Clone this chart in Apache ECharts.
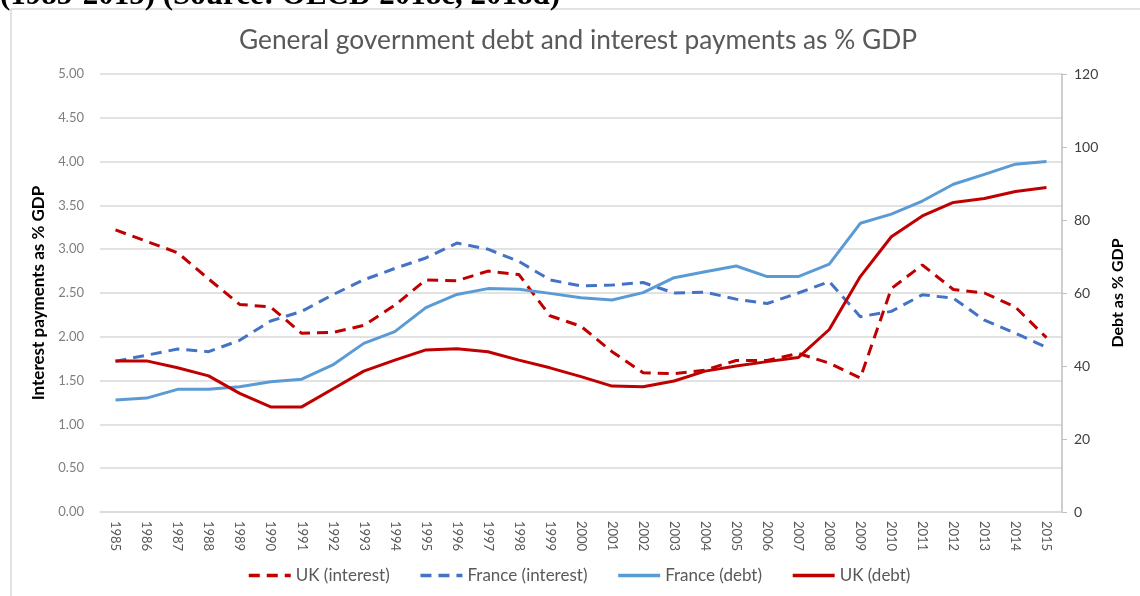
<!DOCTYPE html>
<html>
<head>
<meta charset="utf-8">
<title>General government debt and interest payments</title>
<script src="https://cdn.jsdelivr.net/npm/echarts@6/dist/echarts.min.js"></script>
<style>
    html, body {
        margin: 0;
        padding: 0;
        background: #fff;
    }
    #chart {
        width: 1140px;
        height: 596px;
    }
</style>
</head>
<body>
<div id="chart"></div>
<script>
const years = [
    "1985", "1986", "1987", "1988", "1989", "1990", "1991", "1992", "1993", "1994",
    "1995", "1996", "1997", "1998", "1999", "2000", "2001", "2002", "2003", "2004",
    "2005", "2006", "2007", "2008", "2009", "2010", "2011", "2012", "2013", "2014", "2015"
];
// interest payments, % GDP (left axis)
const ukInterest = [
    3.22, 3.09, 2.96, 2.66, 2.37, 2.34, 2.04, 2.05, 2.13, 2.36,
    2.65, 2.64, 2.75, 2.71, 2.24, 2.12, 1.83, 1.59, 1.58, 1.62,
    1.73, 1.73, 1.81, 1.70, 1.53, 2.55, 2.82, 2.54, 2.50, 2.34, 1.99
];
const franceInterest = [
    1.72, 1.79, 1.86, 1.83, 1.96, 2.18, 2.29, 2.48, 2.65, 2.78,
    2.90, 3.07, 3.00, 2.86, 2.65, 2.58, 2.59, 2.62, 2.50, 2.51,
    2.43, 2.38, 2.50, 2.63, 2.23, 2.29, 2.48, 2.44, 2.19, 2.04, 1.88
];
// debt, % GDP (right axis)
const franceDebt = [
    30.7, 31.2, 33.6, 33.6, 34.3, 35.7, 36.4, 40.3, 46.2, 49.4,
    56.0, 59.6, 61.2, 61.0, 59.9, 58.7, 58.1, 60.1, 64.2, 65.8,
    67.4, 64.5, 64.5, 67.9, 79.1, 81.6, 85.2, 89.8, 92.5, 95.3, 96.0
];
const ukDebt = [
    41.4, 41.4, 39.5, 37.3, 32.5, 28.8, 28.8, 33.7, 38.6, 41.6,
    44.4, 44.7, 43.9, 41.6, 39.5, 37.1, 34.5, 34.3, 35.9, 38.6,
    40.0, 41.2, 42.3, 50.0, 64.5, 75.4, 81.1, 84.8, 85.9, 87.8, 88.9
];

const red = "#c00000";
const blueLight = "#5b9bd5";
const blueDark = "#4472c4";
const font = "Lato, 'Open Sans', sans-serif";

const makeLine = (name, data, color, dashed, axis) => {
    return {
        name: name,
        type: "line",
        yAxisIndex: axis,
        data: data,
        symbol: "none",
        color: color,
        lineStyle: {
            color: color,
            width: 3,
            type: dashed ? [11, 7] : "solid",
        },
        emphasis: { disabled: true },
    };
};

const graph = echarts.init(document.getElementById("chart"));
const option = {
    animation: false,
    backgroundColor: "#fff",
    textStyle: { fontFamily: font },
    graphic: [
        {
            type: "rect",
            shape: { x: 11, y: 9, width: 1300, height: 800 },
            style: { fill: "none", stroke: "#d9d9d9", lineWidth: 1.5 },
            silent: true,
        },
        {
            type: "text",
            x: 0,
            y: 11,
            style: {
                text: "(1985-2015) (Source: OECD 2018c, 2018d)",
                font: "bold 31px 'Liberation Serif', serif",
                fill: "#000",
                verticalAlign: "bottom",
            },
            silent: true,
        },
    ],
    title: {
        text: "General government debt and interest payments as % GDP",
        left: 234,
        top: 23,
        textStyle: {
            fontFamily: font,
            fontWeight: "normal",
            fontSize: 26.3,
            color: "#595959",
        },
    },
    grid: {
        left: 100,
        right: 78,
        top: 74,
        bottom: 84,
    },
    legend: {
        bottom: 7,
        left: 242,
        itemWidth: 42,
        itemHeight: 14,
        itemGap: 29,
        itemStyle: { opacity: 0 },
        lineStyle: { width: 3.5 },
        textStyle: {
            fontFamily: font,
            fontSize: 17,
            color: "#595959",
        },
        data: ["UK (interest)", "France (interest)", "France (debt)", "UK (debt)"],
    },
    xAxis: {
        type: "category",
        data: years,
        boundaryGap: true,
        axisLine: { show: true, lineStyle: { color: "#d9d9d9", width: 1.5 } },
        axisTick: { show: false },
        axisLabel: {
            interval: 0,
            rotate: -90,
            margin: 9,
            fontSize: 13,
            color: "#595959",
        },
    },
    yAxis: [
        {
            type: "value",
            min: 0,
            max: 5,
            interval: 0.5,
            name: "Interest payments as % GDP",
            nameLocation: "middle",
            nameRotate: 90,
            nameGap: 52,
            nameTextStyle: {
                fontFamily: font,
                fontSize: 17,
                fontWeight: "bold",
                color: "#000",
            },
            axisLine: { show: false },
            axisTick: { show: false },
            axisLabel: {
                margin: 16,
                fontSize: 13,
                color: "#7f7f7f",
                formatter: v => v.toFixed(2),
            },
            splitLine: { lineStyle: { color: "#d9d9d9", width: 1.5 } },
        },
        {
            type: "value",
            min: 0,
            max: 120,
            interval: 20,
            position: "right",
            name: "Debt as % GDP",
            nameLocation: "middle",
            nameRotate: 90,
            nameGap: 48,
            nameTextStyle: {
                fontFamily: font,
                fontSize: 16,
                fontWeight: "bold",
                color: "#000",
            },
            axisLine: { show: true, lineStyle: { color: "#bfbfbf", width: 1.5 } },
            axisTick: { show: true, length: 5, lineStyle: { color: "#bfbfbf" } },
            axisLabel: {
                margin: 12,
                fontSize: 14,
                color: "#404040",
            },
            splitLine: { show: false },
        },
    ],
    series: [
        makeLine("UK (interest)", ukInterest, red, true, 0),
        makeLine("France (interest)", franceInterest, blueDark, true, 0),
        makeLine("France (debt)", franceDebt, blueLight, false, 1),
        makeLine("UK (debt)", ukDebt, red, false, 1),
    ],
};
graph.setOption(option);
</script>
</body>
</html>
